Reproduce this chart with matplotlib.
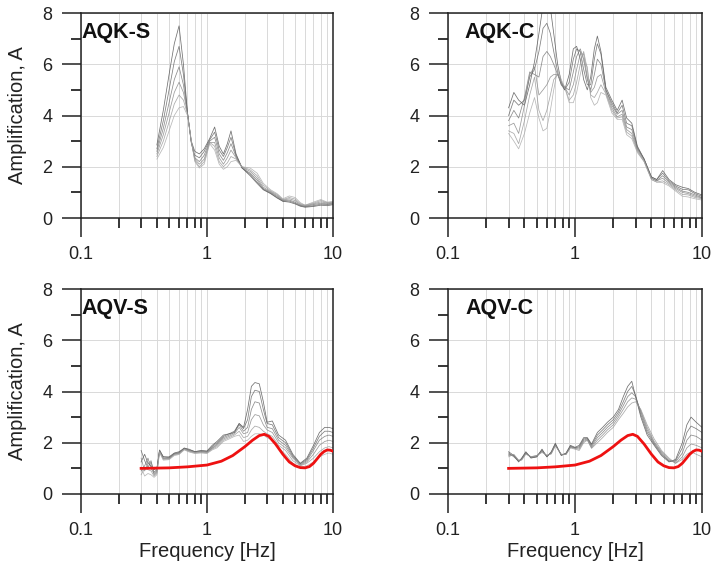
import matplotlib
matplotlib.use("Agg")
import matplotlib.pyplot as plt
from matplotlib.ticker import LogLocator, MultipleLocator, FixedLocator, NullFormatter
import numpy as np

plt.rcParams['font.family'] = ['Liberation Sans', 'DejaVu Sans']

# ---------------- data ----------------
# AQK-S
aqk_s_freq = [0.40, 0.45, 0.50, 0.55, 0.60, 0.65, 0.70, 0.75, 0.80, 0.87, 0.95, 1.05, 1.15,
              1.25, 1.35, 1.45, 1.55, 1.70, 1.90, 2.20, 2.50, 2.80, 3.20, 3.60, 4.00, 4.50,
              5.00, 5.50, 6.00, 7.00, 8.00, 9.00, 10.0]
aqk_s_amp = [
    [2.85, 4.20, 5.60, 6.80, 7.50, 6.00, 4.10, 3.00, 2.60, 2.50, 2.70, 3.10, 3.55, 2.80, 2.50, 2.90, 3.40,
     2.50, 1.95, 1.65, 1.35, 1.10, 0.95, 0.78, 0.65, 0.62, 0.55, 0.46, 0.42, 0.45, 0.50, 0.48, 0.52],
    [2.70, 3.80, 5.00, 6.10, 6.70, 5.60, 4.10, 2.95, 2.45, 2.35, 2.60, 3.05, 3.35, 2.65, 2.40, 2.75, 3.15,
     2.45, 1.95, 1.70, 1.40, 1.12, 0.97, 0.80, 0.66, 0.66, 0.58, 0.48, 0.44, 0.48, 0.54, 0.52, 0.55],
    [2.60, 3.50, 4.50, 5.40, 5.90, 5.20, 4.10, 2.95, 2.35, 2.20, 2.45, 3.00, 3.15, 2.50, 2.25, 2.55, 2.90,
     2.40, 1.95, 1.75, 1.48, 1.15, 1.00, 0.84, 0.68, 0.70, 0.62, 0.50, 0.46, 0.52, 0.58, 0.55, 0.58],
    [2.50, 3.25, 4.10, 4.90, 5.30, 4.90, 4.10, 3.00, 2.30, 2.10, 2.30, 2.95, 2.95, 2.35, 2.10, 2.35, 2.65,
     2.35, 1.98, 1.82, 1.56, 1.20, 1.03, 0.88, 0.70, 0.75, 0.68, 0.53, 0.48, 0.55, 0.63, 0.58, 0.60],
    [2.40, 3.00, 3.75, 4.45, 4.80, 4.60, 4.05, 3.00, 2.25, 2.00, 2.20, 2.95, 2.80, 2.20, 2.00, 2.15, 2.40,
     2.30, 2.00, 1.88, 1.65, 1.28, 1.06, 0.92, 0.72, 0.80, 0.74, 0.56, 0.50, 0.58, 0.68, 0.60, 0.62],
    [2.30, 2.75, 3.40, 4.00, 4.30, 4.35, 4.00, 3.05, 2.20, 1.95, 2.10, 2.90, 2.65, 2.10, 1.90, 2.00, 2.20,
     2.25, 2.00, 1.95, 1.75, 1.35, 1.10, 0.95, 0.75, 0.86, 0.80, 0.60, 0.50, 0.62, 0.72, 0.62, 0.65],
]

# AQK-C
aqk_c_freq = [0.30, 0.33, 0.36, 0.40, 0.44, 0.48, 0.52, 0.56, 0.60, 0.64, 0.68, 0.73, 0.78, 0.83,
              0.90, 0.97, 1.03, 1.10, 1.17, 1.25, 1.33, 1.42, 1.50, 1.60, 1.75, 1.95, 2.15, 2.35,
              2.55, 2.80, 3.10, 3.50, 4.00, 4.40, 4.90, 5.50, 6.20, 7.00, 7.80, 8.80, 10.0]
aqk_c_amp = [
    [4.3, 4.9, 4.6, 4.4, 5.2, 6.1, 7.2, 8.3, 8.6, 8.2, 7.2, 6.0, 5.3, 5.0, 5.6, 6.6, 6.7, 6.2, 5.4, 5.0, 5.5,
     6.6, 7.1, 6.5, 5.1, 4.6, 4.2, 4.6, 3.9, 3.7, 2.8, 2.3, 1.6, 1.5, 1.85, 1.5, 1.3, 1.2, 1.15, 1.0, 0.9],
    [4.0, 4.6, 4.4, 4.6, 5.5, 5.8, 6.5, 7.4, 7.6, 7.2, 6.5, 5.7, 5.2, 5.0, 5.3, 6.2, 6.6, 6.5, 5.8, 5.2, 5.2,
     6.2, 6.8, 6.4, 5.0, 4.5, 4.1, 4.4, 3.7, 3.6, 2.75, 2.3, 1.6, 1.5, 1.75, 1.45, 1.25, 1.12, 1.1, 0.95, 0.85],
    [3.8, 4.2, 3.9, 4.7, 5.7, 5.6, 5.5, 6.3, 6.5, 6.3, 6.0, 5.6, 5.2, 5.1, 5.0, 5.7, 6.3, 6.6, 6.2, 5.4, 5.0,
     5.6, 6.2, 6.0, 5.0, 4.4, 4.05, 4.2, 3.55, 3.45, 2.7, 2.3, 1.55, 1.45, 1.65, 1.4, 1.2, 1.05, 1.0, 0.9, 0.8],
    [3.6, 3.7, 3.3, 4.4, 5.6, 5.9, 4.8, 5.0, 5.2, 5.5, 5.6, 5.6, 5.3, 5.1, 4.8, 5.2, 5.8, 6.4, 6.4, 5.5, 4.9,
     5.1, 5.5, 5.6, 4.9, 4.3, 3.95, 4.05, 3.45, 3.3, 2.65, 2.25, 1.55, 1.45, 1.55, 1.35, 1.15, 1.0, 0.95, 0.85, 0.78],
    [3.4, 3.3, 2.9, 3.8, 4.8, 5.5, 4.2, 3.8, 4.2, 4.8, 5.4, 5.6, 5.3, 5.1, 4.6, 4.8, 5.3, 6.0, 6.5, 5.8, 4.8,
     4.7, 4.9, 5.2, 4.85, 4.2, 3.9, 3.95, 3.35, 3.2, 2.6, 2.2, 1.5, 1.4, 1.45, 1.3, 1.1, 0.92, 0.9, 0.8, 0.75],
    [3.3, 3.0, 2.7, 3.3, 4.1, 4.7, 3.9, 3.4, 3.5, 4.2, 5.0, 5.8, 5.4, 5.1, 4.5, 4.5, 4.9, 5.6, 6.2, 5.9, 4.7,
     4.4, 4.5, 4.9, 4.8, 4.1, 3.85, 3.85, 3.25, 3.1, 2.55, 2.2, 1.5, 1.4, 1.38, 1.25, 1.05, 0.85, 0.82, 0.75, 0.7],
]

# AQV-S
aqv_s_freq = [0.30, 0.32, 0.34, 0.36, 0.38, 0.40, 0.42, 0.45, 0.50, 0.55, 0.60, 0.66, 0.72, 0.80,
              0.90, 1.00, 1.10, 1.20, 1.35, 1.50, 1.65, 1.80, 1.95, 2.10, 2.25, 2.40, 2.60, 2.80,
              3.00, 3.30, 3.70, 4.20, 4.80, 5.50, 6.20, 7.00, 7.80, 8.60, 9.30, 10.0]
aqv_s_amp = [
    [1.25, 1.55, 1.2, 1.1, 0.95, 1.0, 1.7, 1.45, 1.45, 1.6, 1.65, 1.78, 1.75, 1.65, 1.7, 1.68, 1.9, 2.05, 2.3, 2.35,
     2.4, 2.75, 2.6, 3.3, 4.2, 4.35, 4.3, 3.6, 2.8, 2.85, 2.3, 2.1, 1.55, 1.2, 1.4, 1.9, 2.4, 2.6, 2.6, 2.55],
    [1.7, 1.3, 1.05, 1.25, 0.85, 0.95, 1.72, 1.45, 1.42, 1.58, 1.62, 1.8, 1.72, 1.66, 1.68, 1.66, 1.85, 2.0, 2.25, 2.35,
     2.45, 2.75, 2.55, 2.9, 3.8, 4.05, 4.0, 3.3, 2.75, 2.7, 2.2, 2.0, 1.5, 1.18, 1.35, 1.8, 2.25, 2.45, 2.45, 2.4],
    [0.9, 1.1, 1.4, 1.0, 0.8, 0.9, 1.7, 1.4, 1.4, 1.56, 1.6, 1.78, 1.7, 1.64, 1.66, 1.64, 1.8, 1.95, 2.2, 2.3,
     2.4, 2.7, 2.45, 2.6, 3.3, 3.6, 3.55, 3.0, 2.6, 2.55, 2.1, 1.9, 1.45, 1.15, 1.3, 1.7, 2.1, 2.25, 2.3, 2.25],
    [1.4, 0.9, 1.2, 1.3, 0.75, 0.85, 1.68, 1.38, 1.38, 1.55, 1.58, 1.76, 1.68, 1.62, 1.64, 1.62, 1.78, 1.9, 2.15, 2.25,
     2.35, 2.6, 2.35, 2.4, 2.9, 3.1, 3.05, 2.7, 2.5, 2.4, 2.0, 1.8, 1.4, 1.12, 1.25, 1.55, 1.9, 2.05, 2.1, 2.05],
    [0.75, 1.0, 0.95, 0.9, 0.7, 0.8, 1.65, 1.35, 1.36, 1.53, 1.56, 1.74, 1.66, 1.6, 1.62, 1.6, 1.75, 1.85, 2.1, 2.2,
     2.3, 2.45, 2.2, 2.25, 2.5, 2.65, 2.6, 2.45, 2.35, 2.25, 1.9, 1.7, 1.3, 1.1, 1.2, 1.4, 1.65, 1.8, 1.85, 1.8],
    [1.05, 0.7, 0.8, 0.75, 0.65, 0.75, 1.62, 1.32, 1.34, 1.5, 1.54, 1.72, 1.64, 1.58, 1.6, 1.58, 1.72, 1.8, 2.05, 2.15,
     2.25, 2.3, 2.05, 2.1, 2.25, 2.35, 2.35, 2.3, 2.2, 2.1, 1.8, 1.55, 1.2, 1.05, 1.1, 1.25, 1.45, 1.55, 1.6, 1.55],
]

# AQV-C
aqv_c_freq = [0.30, 0.33, 0.36, 0.38, 0.41, 0.45, 0.50, 0.55, 0.60, 0.65, 0.70, 0.78, 0.85, 0.92,
              1.00, 1.08, 1.17, 1.25, 1.35, 1.50, 1.65, 1.80, 2.00, 2.20, 2.40, 2.60, 2.80, 3.00,
              3.30, 3.70, 4.20, 4.80, 5.50, 6.20, 7.00, 7.60, 8.20, 9.00, 10.0]
aqv_c_amp = [
    [1.65, 1.5, 1.25, 1.4, 1.65, 1.4, 1.45, 1.75, 1.45, 1.65, 1.98, 1.5, 1.6, 1.9, 1.82, 1.9, 2.2, 2.2, 1.95, 2.4,
     2.6, 2.8, 3.0, 3.3, 3.8, 4.2, 4.4, 3.8, 3.0, 2.3, 1.9, 1.5, 1.25, 1.35, 2.0, 2.7, 3.0, 2.8, 2.6],
    [1.6, 1.45, 1.28, 1.38, 1.62, 1.42, 1.45, 1.72, 1.45, 1.62, 1.95, 1.52, 1.58, 1.87, 1.8, 1.85, 2.15, 2.18, 1.9, 2.3,
     2.5, 2.7, 2.9, 3.2, 3.6, 4.0, 4.2, 3.85, 3.1, 2.4, 1.95, 1.55, 1.28, 1.3, 1.8, 2.4, 2.65, 2.55, 2.4],
    [1.55, 1.5, 1.3, 1.36, 1.6, 1.44, 1.48, 1.68, 1.48, 1.6, 1.92, 1.52, 1.56, 1.84, 1.8, 1.8, 2.1, 2.15, 1.85, 2.2,
     2.4, 2.6, 2.8, 3.1, 3.45, 3.8, 3.95, 3.8, 3.2, 2.5, 2.0, 1.6, 1.3, 1.25, 1.6, 2.1, 2.3, 2.25, 2.1],
    [1.5, 1.52, 1.3, 1.34, 1.58, 1.45, 1.5, 1.65, 1.5, 1.58, 1.9, 1.55, 1.55, 1.82, 1.78, 1.75, 2.05, 2.12, 1.8, 2.1,
     2.3, 2.5, 2.7, 3.0, 3.3, 3.6, 3.75, 3.7, 3.25, 2.6, 2.05, 1.65, 1.35, 1.2, 1.45, 1.8, 1.95, 1.9, 1.8],
    [1.45, 1.55, 1.32, 1.32, 1.55, 1.46, 1.5, 1.62, 1.52, 1.56, 1.88, 1.55, 1.54, 1.8, 1.75, 1.7, 2.0, 2.1, 1.78, 2.0,
     2.2, 2.4, 2.6, 2.9, 3.15, 3.4, 3.55, 3.6, 3.3, 2.7, 2.15, 1.7, 1.4, 1.2, 1.35, 1.55, 1.65, 1.55, 1.45],
]

# theoretical transfer function (red), same in both AQV panels
red_freq = [0.30, 0.50, 0.70, 1.00, 1.30, 1.60, 2.00, 2.30, 2.60, 2.85, 3.10, 3.50, 4.00, 4.50,
            5.00, 5.50, 6.00, 6.50, 7.00, 7.50, 8.00, 8.50, 9.00, 9.50, 10.0]
red_amp = [1.00, 1.02, 1.06, 1.13, 1.28, 1.50, 1.85, 2.10, 2.28, 2.33, 2.25, 1.95, 1.55, 1.25,
           1.10, 1.03, 1.02, 1.07, 1.20, 1.38, 1.55, 1.66, 1.72, 1.71, 1.67]

panel_names = ['AQK-S', 'AQK-C', 'AQV-S', 'AQV-C']
panel_freqs = [aqk_s_freq, aqk_c_freq, aqv_s_freq, aqv_c_freq]
panel_amps = [aqk_s_amp, aqk_c_amp, aqv_s_amp, aqv_c_amp]
show_red = [False, False, True, True]

# axes rectangles in pixels (left, top, right, bottom) for a 712x566 canvas
W, H = 712, 566
rects = [(81, 13, 333, 218), (448, 13, 702, 218),
         (81, 289, 333, 494), (448, 289, 702, 494)]
title_x = [0.0, 0.065, 0.0, 0.07]

fig = plt.figure(figsize=(W / 100, H / 100), dpi=100)

for i in range(4):
    l, t, r, b = rects[i]
    ax = fig.add_axes([l / W, 1 - b / H, (r - l) / W, (b - t) / H])
    ax.set_xscale('log')
    ax.set_xlim(0.1, 10)
    ax.set_ylim(0, 8)

    for k, curve in enumerate(panel_amps[i]):
        shade = 0.3 + 0.07 * k
        ax.plot(panel_freqs[i], curve, color=str(shade), lw=0.55, alpha=0.8, zorder=2)
    if show_red[i]:
        ax.plot(red_freq, red_amp, color='#ee1111', lw=2.0, zorder=3)

    ax.xaxis.set_major_locator(FixedLocator([0.1, 1, 10]))
    ax.xaxis.set_minor_locator(LogLocator(base=10, subs=np.arange(2, 10)))
    ax.xaxis.set_minor_formatter(NullFormatter())
    ax.set_xticklabels(['0.1', '1', '10'])
    ax.yaxis.set_major_locator(MultipleLocator(2))
    ax.yaxis.set_minor_locator(MultipleLocator(1))

    ax.grid(True, which='both', axis='x', color='#d9d9d9', lw=0.7, zorder=0)
    ax.grid(True, which='major', axis='y', color='#d9d9d9', lw=0.7, zorder=0)

    ax.tick_params(which='major', direction='out', length=13.5, width=1.1, labelsize=13,
                   pad=7, colors='#222222')
    ax.tick_params(which='minor', direction='out', length=7, width=1.1)
    for s in ax.spines.values():
        s.set_linewidth(1.1)
        s.set_color('#222222')

    ax.text(title_x[i], 0.905, panel_names[i], transform=ax.transAxes, ha='left', va='center',
            fontsize=15.5, fontweight='bold', color='#111111', zorder=5)

    if i % 2 == 0:
        ax.set_ylabel('Amplification, A', fontsize=14.5, color='#222222')
        ax.yaxis.set_label_coords(-0.215, 0.5)
    if i >= 2:
        ax.set_xlabel('Frequency [Hz]', fontsize=14.5, color='#222222', labelpad=2)

fig.savefig('out.png', dpi=100)
